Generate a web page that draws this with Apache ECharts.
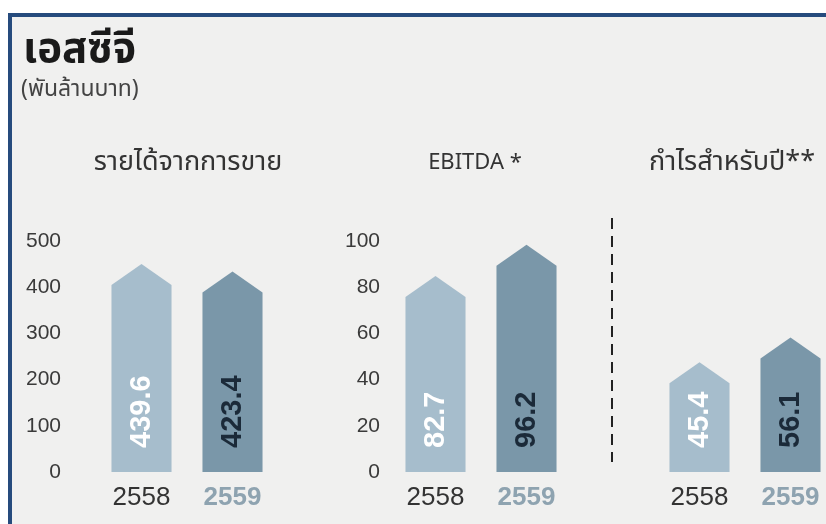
<!DOCTYPE html>
<html>
<head>
<meta charset="utf-8">
<script src="https://cdn.jsdelivr.net/npm/echarts@6/dist/echarts.min.js"></script>
<style>
  html, body { margin: 0; padding: 0; background: #fff; overflow: hidden; }
  #main { width: 860px; height: 524px; }
</style>
</head>
<body>
<div id="main"></div>
<script>
// data
const years = ["2558", "2559"];
const revenue = [439.6, 423.4];
const ebitda = [82.7, 96.2];
const profit = [45.4, 56.1];
const panelTitles = ["รายได้จากการขาย", "EBITDA *", "กำไรสำหรับปี**"];

const barColors = ["#a6bdcc", "#7a97a9"];
const valueColors = ["#ffffff", "#1b2a39"];
const yearColors = ["#333333", "#8ea3b0"];
const thaiFont = '"Noto Sans Thai", "Leelawadee UI", Tahoma, "DejaVu Sans", sans-serif';

// arrow shaped bar, tip a little above the value
function renderItem(params, api) {
  const i = params.dataIndex;
  const base = api.coord([api.value(0), 0]);
  const top = api.coord([api.value(0), api.value(1)]);
  const w = api.size([1, 0])[0] * 0.66;
  const cx = base[0];
  const tipY = top[1] - 5;
  const shY = tipY + 21;
  return {
    type: "group",
    children: [
      {
        type: "polygon",
        shape: {
          points: [
            [cx - w / 2, base[1]],
            [cx - w / 2, shY],
            [cx, tipY],
            [cx + w / 2, shY],
            [cx + w / 2, base[1]],
          ],
        },
        style: { fill: barColors[i] },
      },
      {
        type: "text",
        x: cx,
        y: base[1] - 24,
        rotation: Math.PI / 2,
        style: {
          text: String(api.value(1)),
          fill: valueColors[i],
          font: 'bold 29px "Liberation Sans", Arial, sans-serif',
          align: "left",
          verticalAlign: "middle",
        },
      },
    ],
  };
}

const gridLefts = [96, 390, 654];
const grids = gridLefts.map((l) => ({ left: l, width: 182, top: 241, bottom: 52 }));

const xAxes = gridLefts.map((l, g) => ({
  type: "category",
  gridIndex: g,
  data: years,
  axisLine: { show: false },
  axisTick: { show: false },
  axisLabel: {
    interval: 0,
    margin: 13,
    fontSize: 26,
    fontFamily: "Liberation Sans",
    color: yearColors[0],
    formatter: (v, idx) => (idx === 1 ? "{b|" + v + "}" : v),
    rich: { b: { fontSize: 26, fontWeight: "bold", color: yearColors[1], fontFamily: "Liberation Sans" } },
  },
}));

const yAxes = [
  { max: 500, interval: 100, margin: 35, show: true },
  { max: 100, interval: 20, margin: 10, show: true },
  { max: 100, interval: 20, margin: 10, show: false },
].map((a, g) => ({
  type: "value",
  gridIndex: g,
  min: 0,
  max: a.max,
  interval: a.interval,
  show: a.show,
  splitLine: { show: false },
  axisLine: { show: false },
  axisTick: { show: false },
  axisLabel: {
    margin: a.margin,
    fontSize: 21,
    fontFamily: "Liberation Sans",
    color: "#3a3a3a",
  },
}));

const seriesData = [revenue, ebitda, profit];

const myChart = echarts.init(document.getElementById("main"));
const option = {
  backgroundColor: "#ffffff",
  animation: false,
  grid: grids,
  xAxis: xAxes,
  yAxis: yAxes,
  graphic: [
    {
      type: "rect",
      z: -10,
      shape: { x: 10, y: 15, width: 870, height: 540 },
      style: { fill: "#f0f0ef", stroke: "#264b7d", lineWidth: 4 },
    },
    {
      type: "text",
      left: 23,
      top: 33,
      style: { text: "เอสซีจี", font: "bold 42px " + thaiFont, fill: "#1a1a1a" },
    },
    {
      type: "text",
      left: 21,
      top: 80,
      style: { text: "(พันล้านบาท)", font: "23px " + thaiFont, fill: "#444444" },
    },
    ...panelTitles.map((t, g) => ({
      type: "text",
      x: gridLefts[g] + 91 + (g === 1 ? -6 : g === 0 ? 1 : -13),
      y: 165,
      style: {
        text: t,
        font: (g === 1 ? "22px " : "27px ") + thaiFont,
        fill: "#333333",
        align: "center",
        verticalAlign: "middle",
      },
    })),
    {
      type: "line",
      shape: { x1: 612, y1: 218, x2: 612, y2: 462 },
      style: { stroke: "#222222", lineWidth: 2, lineDash: [11, 7] },
    },
  ],
  series: seriesData.map((arr, g) => ({
    type: "custom",
    xAxisIndex: g,
    yAxisIndex: g,
    renderItem: renderItem,
    encode: { x: 0, y: 1 },
    data: arr.map((v, i) => [i, v]),
  })),
};
myChart.setOption(option);
</script>
</body>
</html>
